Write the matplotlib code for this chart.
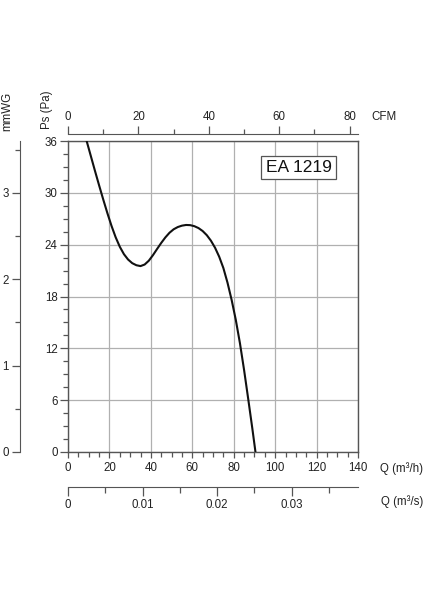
import matplotlib
matplotlib.use("Agg")
import matplotlib.pyplot as plt
from matplotlib.ticker import MultipleLocator, FixedLocator

plt.rcParams['font.family'] = ['Liberation Sans', 'DejaVu Sans']

# Data (Q in m3/h, Ps in Pa)
flow_m3h = [9, 11, 13, 15, 17, 19, 21, 23, 25, 27, 29, 31, 33, 35, 37, 39, 41, 43, 45, 47, 49,
            51, 53, 55, 57, 59, 61, 63, 65, 67, 69, 71, 73, 75, 77, 79, 81, 83, 85, 87, 89, 90.5]
pressure_pa = [36.0, 34.28, 32.56, 30.88, 29.24, 27.66, 26.18, 24.86, 23.76, 22.9, 22.28, 21.86,
               21.62, 21.52, 21.7, 22.14, 22.78, 23.5, 24.2, 24.84, 25.38, 25.78, 26.04, 26.2,
               26.28, 26.26, 26.14, 25.92, 25.58, 25.1, 24.46, 23.64, 22.6, 21.3, 19.6, 17.6,
               15.3, 12.6, 9.5, 6.14, 2.7, 0.0]
model_label = "EA 1219"
cfm_per_m3h = 1 / 1.699
m3s_per_m3h = 1 / 3600
mmwg_per_pa = 1 / 10

W, H = 424, 600
fig = plt.figure(figsize=(W / 100, H / 100), dpi=100)
fig.patch.set_facecolor('white')

L, R, T, B = 68, 358, 141, 452
pos = [L / W, 1 - B / H, (R - L) / W, (B - T) / H]
spine_c = '#555555'
grid_c = '#b0b0b0'
fs = 8.3

ax = fig.add_axes(pos)
ax.set_xlim(0, 140)
ax.set_ylim(0, 36)
ax.plot(flow_m3h, pressure_pa, color='#111111', lw=1.5, zorder=3,
        solid_joinstyle='round', solid_capstyle='round')
ax.xaxis.set_major_locator(MultipleLocator(20))
ax.xaxis.set_minor_locator(MultipleLocator(5))
ax.yaxis.set_major_locator(MultipleLocator(6))
ax.yaxis.set_minor_locator(MultipleLocator(1.5))
ax.grid(True, which='major', color=grid_c, lw=0.9)
for s in ax.spines.values():
    s.set_color(spine_c)
    s.set_linewidth(1.0)
ax.tick_params(which='both', direction='out', colors=spine_c, labelcolor='#222222',
               labelsize=fs, width=0.9)
ax.tick_params(axis='x', which='major', length=4, pad=3)
ax.tick_params(axis='x', which='minor', length=3.5)
ax.tick_params(axis='y', which='major', length=6, pad=1.5)
ax.tick_params(axis='y', which='minor', length=3.5)
ax.text(0.795, 0.915, model_label, transform=ax.transAxes, ha='center', va='center',
        fontsize=12.5, color='#111111',
        bbox=dict(boxstyle='square,pad=0.25', fc='white', ec=spine_c, lw=0.9), zorder=4)

# Top CFM axis
axt = fig.add_axes(pos, frameon=True)
axt.patch.set_alpha(0)
axt.set_xlim(0, 140 * cfm_per_m3h)
axt.set_yticks([])
for k in ['left', 'right', 'bottom']:
    axt.spines[k].set_visible(False)
axt.spines['top'].set_position(('outward', 7 * 72 / 100))
axt.spines['top'].set_color(spine_c)
axt.xaxis.set_ticks_position('top')
axt.xaxis.set_label_position('top')
axt.xaxis.set_major_locator(MultipleLocator(20))
axt.xaxis.set_minor_locator(MultipleLocator(10))
axt.tick_params(axis='x', which='both', direction='out', colors=spine_c, labelcolor='#222222',
                labelsize=fs, width=0.9)
axt.tick_params(axis='x', which='major', length=6, pad=2)
axt.tick_params(axis='x', which='minor', length=3.5)

# Bottom m3/s axis
axb = fig.add_axes(pos, frameon=True)
axb.patch.set_alpha(0)
axb.set_xlim(0, 140 * m3s_per_m3h)
axb.set_yticks([])
for k in ['left', 'right', 'top']:
    axb.spines[k].set_visible(False)
axb.spines['bottom'].set_position(('outward', 35 * 72 / 100))
axb.spines['bottom'].set_color(spine_c)
axb.xaxis.set_major_locator(FixedLocator([0, 0.01, 0.02, 0.03]))
axb.xaxis.set_minor_locator(FixedLocator([0.005, 0.015, 0.025, 0.035]))
axb.set_xticklabels(['0', '0.01', '0.02', '0.03'])
axb.tick_params(axis='x', which='both', direction='out', colors=spine_c, labelcolor='#222222',
                labelsize=fs, width=0.9)
axb.tick_params(axis='x', which='major', length=6.5, pad=2)
axb.tick_params(axis='x', which='minor', length=4)

# Left mmWG axis
axm = fig.add_axes([20 / W, pos[1], 0.001, pos[3]])
axm.patch.set_alpha(0)
axm.set_ylim(0, 36 * mmwg_per_pa)
axm.set_xticks([])
for k in ['right', 'bottom', 'top']:
    axm.spines[k].set_visible(False)
axm.spines['left'].set_color(spine_c)
axm.yaxis.set_major_locator(MultipleLocator(1))
axm.yaxis.set_minor_locator(MultipleLocator(0.5))
axm.tick_params(axis='y', which='both', direction='out', colors=spine_c, labelcolor='#222222',
                labelsize=fs, width=0.9)
axm.tick_params(axis='y', which='major', length=6, pad=2)
axm.tick_params(axis='y', which='minor', length=3.5)

# Axis titles
def fx(px):
    return px / W

def fy(py):
    return 1 - py / H

fig.text(fx(47), fy(110), 'Ps (Pa)', rotation=90, ha='center', va='center', fontsize=fs, color='#222222')
fig.text(fx(7), fy(111), 'mmWG', rotation=90, ha='center', va='center', fontsize=fs, color='#222222')
fig.text(fx(384), fy(117), 'CFM', ha='center', va='center', fontsize=fs, color='#222222')
fig.text(fx(402), fy(469), 'Q (m³/h)', ha='center', va='center', fontsize=fs, color='#222222')
fig.text(fx(402), fy(502), 'Q (m³/s)', ha='center', va='center', fontsize=fs, color='#222222')

fig.savefig('out.png', dpi=100, facecolor='white')
